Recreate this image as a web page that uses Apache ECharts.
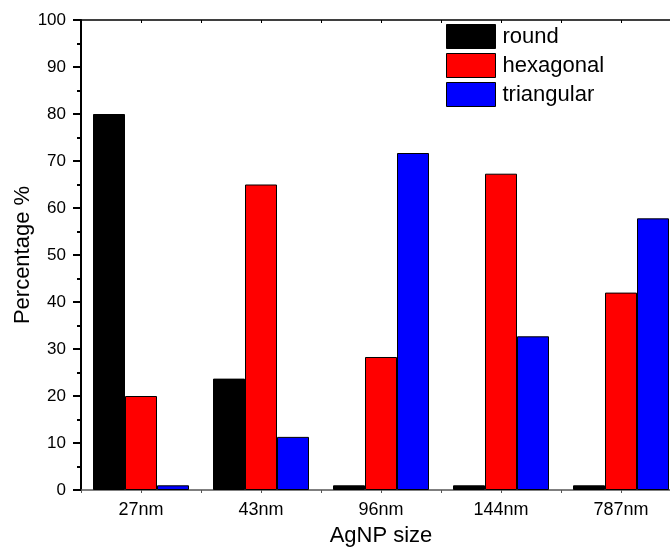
<!DOCTYPE html>
<html>
<head>
<meta charset="utf-8">
<script src="https://cdn.jsdelivr.net/npm/echarts@6/dist/echarts.min.js"></script>
<style>
  html, body { margin: 0; padding: 0; background: #fff; }
  #chart { width: 670px; height: 548px; }
</style>
</head>
<body>
<div id="chart"></div>
<script>
// AgNP shape distribution by particle size
const sizes = ['27nm', '43nm', '96nm', '144nm', '787nm'];
const roundPct = [80, 23.7, 1, 1, 1];
const hexagonalPct = [20, 65, 28.3, 67.3, 42];
const triangularPct = [1, 11.3, 71.7, 32.7, 57.8];
const yTicks = [0, 10, 20, 30, 40, 50, 60, 70, 80, 90, 100];

const FONT = '"Liberation Sans", Arial, sans-serif';
const chart = echarts.init(document.getElementById('chart'));

function barSeries(name, data, color) {
  return {
    name: name,
    type: 'bar',
    xAxisIndex: 0,
    yAxisIndex: 0,
    data: data,
    barWidth: 32,
    barGap: '0%',
    itemStyle: { color: color, borderColor: '#000', borderWidth: 1 },
    emphasis: { disabled: true }
  };
}

chart.setOption({
  animation: false,
  backgroundColor: '#fff',
  textStyle: { fontFamily: FONT, color: '#000' },
  // plot frame runs past the right edge of the canvas
  grid: { left: 81, top: 20, width: 600, height: 470, containLabel: false, outerBoundsMode: 'none' },
  legend: {
    orient: 'vertical',
    left: 446,
    top: 24,
    itemWidth: 49,
    itemHeight: 24,
    itemGap: 4,
    icon: 'rect',
    padding: 0,
    textStyle: { fontFamily: FONT, fontSize: 22, color: '#000', padding: [0, 0, 0, 2] },
    itemStyle: { borderColor: '#000', borderWidth: 1 },
    data: ['round', 'hexagonal', 'triangular']
  },
  xAxis: [
    {
      type: 'category',
      data: sizes,
      position: 'bottom',
      name: 'AgNP size',
      nameLocation: 'middle',
      nameGap: 35,
      nameMoveOverlap: false,
      nameTextStyle: { fontFamily: FONT, fontSize: 22, color: '#000' },
      axisLine: { show: true, lineStyle: { color: '#555', width: 1.5 } },
      axisTick: { show: false },
      axisLabel: { fontFamily: FONT, fontSize: 18, color: '#000', margin: 11 },
      splitLine: { show: false }
    },
    {
      type: 'value',
      position: 'bottom',
      min: 0, max: 10, interval: 1,
      axisLine: { show: false },
      axisTick: { show: true, length: 3, lineStyle: { color: '#555' } },
      axisLabel: { show: false },
      splitLine: { show: false }
    },
    {
      type: 'value',
      position: 'top',
      min: 0, max: 10, interval: 1,
      axisLine: { show: true, lineStyle: { color: '#000', width: 1.5 } },
      axisTick: { show: true, inside: true, length: 3, lineStyle: { color: '#000' } },
      axisLabel: { show: false },
      splitLine: { show: false }
    }
  ],
  yAxis: {
    type: 'value',
    min: yTicks[0],
    max: yTicks[yTicks.length - 1],
    interval: 10,
    name: 'Percentage %',
    nameLocation: 'middle',
    nameGap: 47,
    nameMoveOverlap: false,
    nameTextStyle: { fontFamily: FONT, fontSize: 22, color: '#000' },
    axisLine: { show: true, lineStyle: { color: '#000', width: 2 } },
    axisTick: { show: true, length: 8, lineStyle: { color: '#000', width: 2 } },
    minorTick: { show: true, splitNumber: 2, length: 4, lineStyle: { color: '#000', width: 2 } },
    axisLabel: { fontFamily: FONT, fontSize: 17, color: '#000', margin: 15 },
    splitLine: { show: false },
    minorSplitLine: { show: false }
  },
  series: [
    barSeries('round', roundPct, '#000000'),
    barSeries('hexagonal', hexagonalPct, '#ff0000'),
    barSeries('triangular', triangularPct, '#0000ff')
  ]
});
</script>
</body>
</html>
